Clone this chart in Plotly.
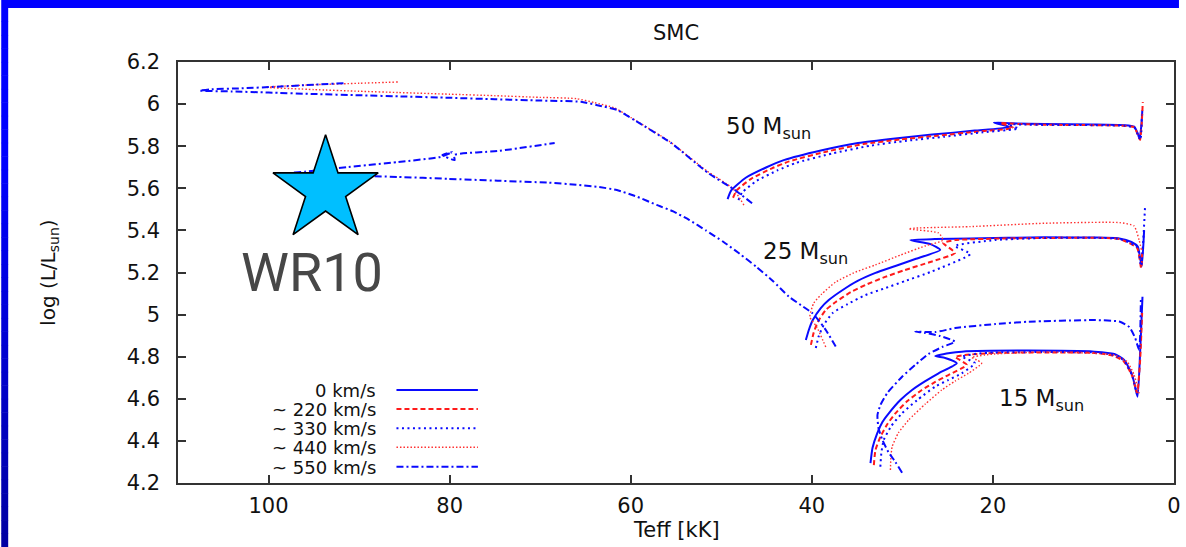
import plotly.graph_objects as go

# ---------------- data (Teff in kK, log L/Lsun) ----------------
T50_v0 = [49.3, 48.9, 47.3, 45.0, 43.1, 39.0, 34.9, 30.8, 26.7, 22.0, 18.1, 19.9, 18.0, 14.3, 9.0, 5.5, 4.4, 4.0, 3.8, 3.6, 3.5]
L50_v0 = [5.549, 5.59, 5.65, 5.70, 5.734, 5.78, 5.815, 5.837, 5.855, 5.874, 5.891, 5.912, 5.909, 5.905, 5.903, 5.90, 5.893, 5.86, 5.834, 5.90, 5.97]
T50_v220 = [48.7, 48.3, 46.7, 44.4, 42.5, 38.4, 34.3, 30.2, 26.1, 21.6, 17.7, 19.2, 17.5, 14.3, 9.0, 5.5, 4.4, 4.0, 3.75, 3.55, 3.45]
L50_v220 = [5.555, 5.59, 5.645, 5.695, 5.728, 5.774, 5.81, 5.832, 5.85, 5.87, 5.887, 5.91, 5.906, 5.902, 5.9, 5.897, 5.89, 5.855, 5.83, 5.92, 6.01]
T50_v330 = [48.1, 47.7, 46.1, 43.8, 41.8, 37.7, 33.6, 29.5, 25.4, 21.1, 17.2, 18.4, 16.8, 14.0, 9.0, 5.5, 4.4, 4.0, 3.7, 3.55]
L50_v330 = [5.544, 5.58, 5.635, 5.685, 5.72, 5.766, 5.802, 5.826, 5.845, 5.866, 5.884, 5.905, 5.903, 5.901, 5.9, 5.897, 5.89, 5.855, 5.83, 5.95]
T50_v440 = [47.5, 48.7, 51.6, 55.8, 59.9, 61.8, 64.0, 66.0, 70.0, 75.0, 80.0, 85.7, 90.0, 95.0, 100.3, 99.0, 95.0, 90.0, 85.7]
L50_v440 = [5.52, 5.598, 5.683, 5.825, 5.934, 5.982, 6.007, 6.026, 6.032, 6.04, 6.047, 6.055, 6.061, 6.069, 6.08, 6.084, 6.092, 6.099, 6.105]
T50_v550 = [46.6, 48.5, 51.4, 55.5, 59.6, 61.5, 63.7, 65.5, 70.0, 75.0, 80.0, 85.0, 90.0, 95.0, 100.0, 104.0, 107.6, 106.5, 103.0, 99.0, 95.0, 91.5]
L50_v550 = [5.529, 5.592, 5.671, 5.814, 5.924, 5.972, 5.995, 6.011, 6.017, 6.023, 6.03, 6.036, 6.042, 6.048, 6.055, 6.06, 6.064, 6.07, 6.075, 6.083, 6.092, 6.1]

T25_v0 = [40.66, 40.33, 39.89, 39.01, 38.13, 36.59, 34.94, 32.97, 30.77, 28.57, 25.82, 26.9, 29.12, 26.4, 22.5, 14.3, 8.8, 6.04, 4.7, 4.0, 3.57, 3.3]
L25_v0 = [4.879, 4.927, 4.974, 5.031, 5.069, 5.117, 5.16, 5.198, 5.231, 5.264, 5.307, 5.335, 5.354, 5.359, 5.362, 5.367, 5.366, 5.362, 5.345, 5.323, 5.228, 5.40]
T25_v220 = [40.1, 39.8, 39.34, 38.46, 37.36, 35.7, 34.07, 31.9, 29.7, 26.92, 24.18, 25.49, 24.2, 14.3, 6.04, 4.07, 3.63, 3.5]
L25_v220 = [4.856, 4.913, 4.965, 5.022, 5.06, 5.107, 5.141, 5.179, 5.212, 5.25, 5.293, 5.34, 5.354, 5.364, 5.359, 5.316, 5.221, 5.31]
T25_v330 = [39.56, 39.23, 38.68, 37.69, 36.04, 34.07, 31.87, 29.67, 26.92, 22.5, 24.2, 19.78, 14.3, 6.04, 4.07, 3.63, 3.19]
L25_v330 = [4.841, 4.898, 4.951, 5.008, 5.05, 5.093, 5.126, 5.16, 5.202, 5.288, 5.326, 5.354, 5.364, 5.359, 5.321, 5.231, 5.52]
T25_v440 = [38.46, 39.45, 40.22, 39.78, 38.9, 37.36, 35.16, 32.97, 30.2, 27.5, 25.5, 26.0, 29.3, 28.6, 22.5, 14.3, 6.0, 4.4, 3.85, 3.6]
L25_v440 = [4.846, 4.941, 4.989, 5.055, 5.098, 5.155, 5.202, 5.236, 5.283, 5.326, 5.354, 5.388, 5.407, 5.411, 5.418, 5.434, 5.437, 5.421, 5.354, 5.307]
T25_v550 = [37.36, 38.5, 39.92, 41.2, 42.53, 44.3, 46.15, 48.0, 49.78, 51.7, 53.52, 55.3, 57.14, 59.3, 61.54, 63.7, 66.0, 69.2, 74.7, 80.2, 85.7, 91.2, 96.7, 97.3, 96.0, 91.2, 85.7, 81.0, 79.7, 80.8, 79.45, 79.5, 74.7, 68.4]
L25_v550 = [4.848, 4.93, 5.006, 5.045, 5.085, 5.16, 5.228, 5.29, 5.346, 5.40, 5.449, 5.49, 5.521, 5.56, 5.592, 5.607, 5.617, 5.627, 5.636, 5.645, 5.654, 5.661, 5.668, 5.674, 5.679, 5.701, 5.725, 5.749, 5.772, 5.758, 5.734, 5.758, 5.777, 5.815]

T15_v0 = [33.52, 33.30, 32.78, 32.2, 31.5, 30.22, 28.93, 27.47, 26.0, 23.99, 25.27, 26.37, 24.73, 23.44, 16.15, 8.79, 6.59, 5.49, 4.61, 4.03, 3.73, 3.48]
L15_v0 = [4.294, 4.366, 4.436, 4.49, 4.531, 4.594, 4.642, 4.684, 4.721, 4.769, 4.794, 4.803, 4.818, 4.824, 4.829, 4.824, 4.813, 4.784, 4.713, 4.61, 4.832, 5.085]
T15_v220 = [33.15, 32.97, 32.42, 31.65, 30.77, 29.45, 27.84, 26.37, 24.91, 22.89, 23.63, 24.18, 23.08, 19.78, 14.29, 8.79, 6.59, 5.49, 4.61, 4.07, 3.74, 3.52]
L15_v220 = [4.285, 4.357, 4.42, 4.48, 4.531, 4.589, 4.642, 4.68, 4.713, 4.761, 4.784, 4.799, 4.808, 4.818, 4.82, 4.818, 4.803, 4.775, 4.708, 4.628, 4.784, 5.008]
T15_v330 = [32.43, 32.32, 32.06, 31.22, 30.04, 28.36, 26.37, 24.95, 23.44, 21.98, 22.86, 23.44, 21.98, 19.78, 14.29, 8.79, 6.59, 5.49, 4.61, 4.07]
L15_v330 = [4.277, 4.343, 4.404, 4.471, 4.531, 4.594, 4.658, 4.689, 4.721, 4.769, 4.789, 4.8, 4.813, 4.82, 4.822, 4.82, 4.808, 4.78, 4.708, 4.618]
T15_v440 = [31.32, 31.27, 31.13, 30.44, 29.31, 27.47, 25.64, 24.18, 22.71, 21.24, 21.76, 22.34, 20.88, 19.78, 14.29, 8.79, 6.59, 5.16, 4.4, 3.85]
L15_v440 = [4.262, 4.319, 4.372, 4.438, 4.499, 4.575, 4.642, 4.684, 4.721, 4.769, 4.784, 4.797, 4.808, 4.813, 4.822, 4.816, 4.808, 4.776, 4.713, 4.626]
T15_v550 = [30.03, 30.77, 31.54, 32.2, 32.64, 32.75, 32.42, 31.65, 30.03, 28.57, 27.11, 25.6, 24.18, 25.82, 27.47, 28.57, 26.37, 24.18, 19.78, 16.15, 8.79, 6.04, 4.94, 4.29, 3.85, 3.66]
L15_v550 = [4.249, 4.3, 4.347, 4.404, 4.461, 4.523, 4.571, 4.628, 4.705, 4.761, 4.813, 4.846, 4.871, 4.898, 4.913, 4.919, 4.917, 4.936, 4.955, 4.966, 4.974, 4.967, 4.941, 4.889, 4.832, 5.069]

# WR10 position
WR10_T = [93.7]
WR10_L = [5.592]

legend_labels = ["0 km/s", "~ 220 km/s", "~ 330 km/s", "~ 440 km/s", "~ 550 km/s"]
mass_labels = ["50 M<sub>sun</sub>", "25 M<sub>sun</sub>", "15 M<sub>sun</sub>"]
mass_label_T = [49.7, 45.6, 19.5]
mass_label_L = [5.885, 5.295, 4.595]
x_ticks = [0, 20, 40, 60, 80, 100]
y_ticks = [4.2, 4.4, 4.6, 4.8, 5.0, 5.2, 5.4, 5.6, 5.8, 6.0, 6.2]

# ---------------- styles ----------------
BLUE = "#0a0aff"
RED = "#ff1a1a"
styles = [
    dict(color=BLUE, width=2.0, dash="solid"),
    dict(color=RED, width=2.0, dash="5px,3px"),
    dict(color=BLUE, width=2.0, dash="2px,3.5px"),
    dict(color="#ff3030", width=1.4, dash="1.5px,2px"),
    dict(color=BLUE, width=2.0, dash="7px,3px,2px,3px"),
]

tracks = [
    (T50_v0, L50_v0, 0), (T50_v220, L50_v220, 1), (T50_v330, L50_v330, 2), (T50_v440, L50_v440, 3), (T50_v550, L50_v550, 4),
    (T25_v0, L25_v0, 0), (T25_v220, L25_v220, 1), (T25_v330, L25_v330, 2), (T25_v440, L25_v440, 3), (T25_v550, L25_v550, 4),
    (T15_v0, L15_v0, 0), (T15_v220, L15_v220, 1), (T15_v330, L15_v330, 2), (T15_v440, L15_v440, 3), (T15_v550, L15_v550, 4),
]

fig = go.Figure()
for T, L, s in tracks:
    fig.add_trace(go.Scatter(x=T, y=L, mode="lines", line=dict(shape="spline", smoothing=0.5, **styles[s]),
                             showlegend=False, hoverinfo="skip"))

fig.add_trace(go.Scatter(
    x=WR10_T, y=WR10_L, mode="markers", showlegend=False, hoverinfo="skip",
    marker=dict(symbol="star", size=79, color="#00BFFF", line=dict(color="black", width=1.6)),
))

W, H = 1186, 547
L_M, R_M, T_M, B_M = 178, 5, 62, 64
pw, ph = W - L_M - R_M, H - T_M - B_M

def px(x):
    return (x - L_M) / pw

def py(y):
    return (H - B_M - y) / ph

FONT = "DejaVu Sans"
annotations = []
# title / axis titles
annotations.append(dict(text="SMC", x=px(680), y=py(33), xref="paper", yref="paper", showarrow=False,
                        xanchor="center", yanchor="middle",
                        font=dict(family=FONT, size=21, color="#111")))
annotations.append(dict(text="Teff [kK]", x=px(680), y=py(530), xref="paper", yref="paper", showarrow=False,
                        xanchor="center", yanchor="middle",
                        font=dict(family=FONT, size=21, color="#111")))
annotations.append(dict(text="log (L/L<sub>sun</sub>)", x=px(48), y=py(272), xref="paper", yref="paper",
                        xanchor="center", yanchor="middle",
                        showarrow=False, textangle=-90, font=dict(family=FONT, size=20, color="#111")))
# mass labels
for t, xv, yv in zip(mass_labels, mass_label_T, mass_label_L):
    annotations.append(dict(text=t, x=xv, y=yv, xref="x", yref="y", xanchor="left", yanchor="middle",
                            showarrow=False, font=dict(family=FONT, size=23, color="#111")))
# WR10 label
annotations.append(dict(text="WR10", x=95.2, y=5.20, xref="x", yref="y", showarrow=False,
                        font=dict(family="Roboto", size=54, color="#474747")))

# custom legend (text left, sample right)
shapes = []
leg_rows = [390, 409, 428.3, 447.3, 466.7]
for lab, yrow, st in zip(legend_labels, leg_rows, styles):
    annotations.append(dict(text=lab, x=px(378), y=py(yrow), xref="paper", yref="paper", xanchor="right",
                            yanchor="middle", showarrow=False, borderpad=0, height=18, valign="middle",
                            font=dict(family=FONT, size=18, color="#111")))
    shapes.append(dict(type="line", xref="paper", yref="paper", x0=px(398), x1=px(480), y0=py(yrow), y1=py(yrow),
                       line=dict(color=st["color"], width=st["width"], dash=st["dash"])))

# slide frame: top bar and left gradient bar
shapes.append(dict(type="rect", xref="paper", yref="paper", x0=px(0), x1=px(W), y0=py(8), y1=py(0),
                   fillcolor="#0000ff", line=dict(width=0), layer="above"))
nseg = 40
for i in range(nseg):
    y0 = 8 + (H - 8) * i / nseg
    y1 = 8 + (H - 8) * (i + 1) / nseg
    frac = max(0.0, (y0 - 150) / (H - 150))
    b = int(round(255 - frac * 95))
    shapes.append(dict(type="rect", xref="paper", yref="paper", x0=px(0), x1=px(7), y0=py(y1 + 0.5), y1=py(y0),
                       fillcolor=f"rgb(0,0,{b})", line=dict(width=0), layer="above"))

axis_common = dict(showline=True, linecolor="#333", linewidth=1.5, mirror="ticks", ticks="inside",
                   ticklen=8, tickwidth=1.5, tickcolor="#333", showgrid=False, zeroline=False,
                   tickfont=dict(family=FONT, size=21, color="#111"))

fig.update_layout(
    width=W, height=H,
    margin=dict(l=L_M, r=R_M, t=T_M, b=B_M),
    paper_bgcolor="white", plot_bgcolor="white",
    xaxis=dict(range=[110, 0], tickvals=x_ticks, ticklabelstandoff=3, **axis_common),
    yaxis=dict(range=[4.2, 6.2], tickvals=y_ticks, ticktext=[("%g" % v) for v in y_ticks],
               ticklabelstandoff=12, **axis_common),
    annotations=annotations,
    shapes=shapes,
    showlegend=False,
)

fig.write_html("out.html", config={"displayModeBar": False},
               post_script="document.body.style.margin='0px';document.body.style.overflow='hidden';")
